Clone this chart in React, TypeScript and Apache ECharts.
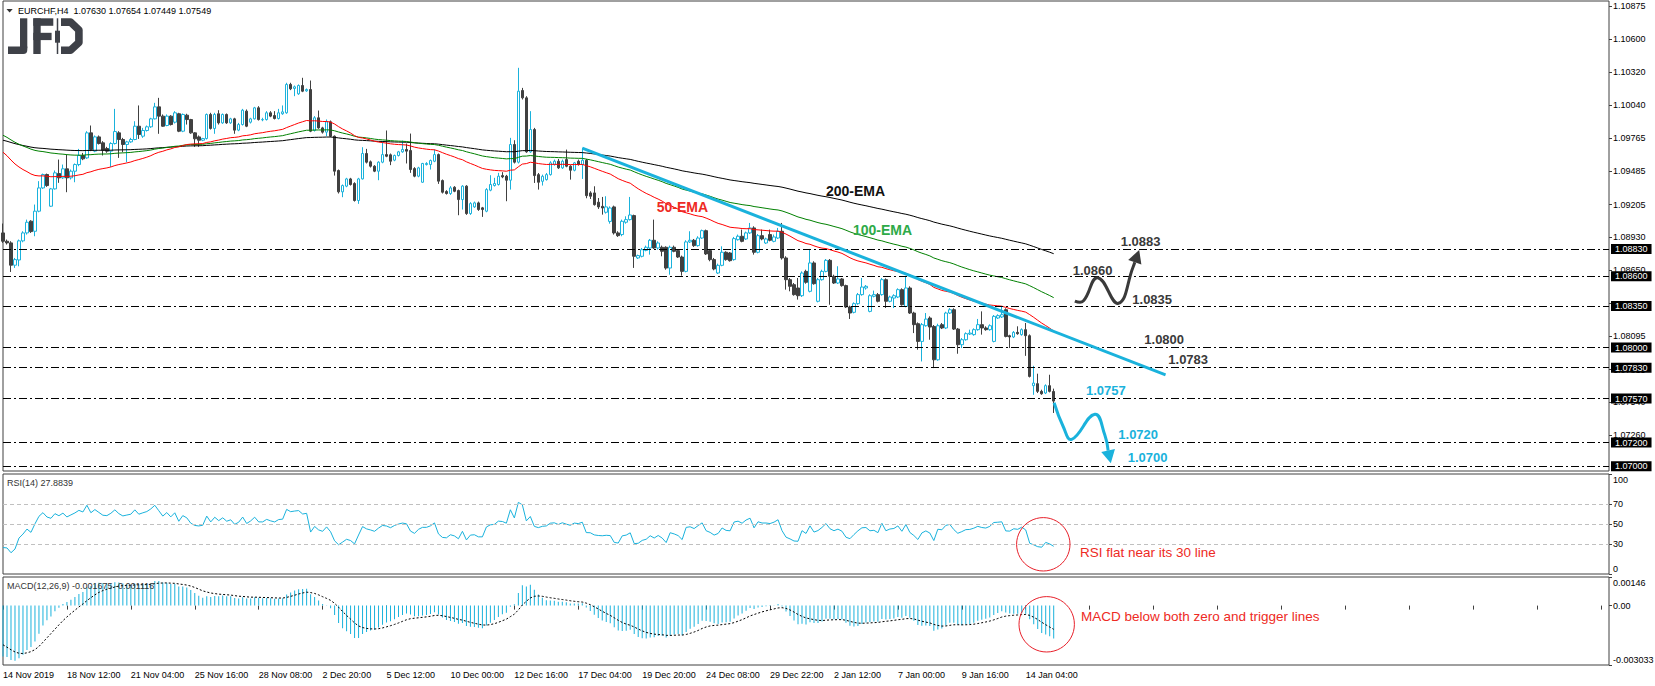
import React, { useEffect, useRef } from "react";
import * as echarts from "echarts";

// ---------------- data ----------------
const SLOT_COUNT = 403; // chart width in H4 bars (includes empty right shift)
const LABEL_EVERY = 16;
const timeLabels = [
  "14 Nov 2019", "18 Nov 12:00", "21 Nov 04:00", "25 Nov 16:00", "28 Nov 08:00",
  "2 Dec 20:00", "5 Dec 12:00", "10 Dec 00:00", "12 Dec 16:00", "17 Dec 04:00",
  "19 Dec 20:00", "24 Dec 08:00", "29 Dec 22:00", "2 Jan 12:00", "7 Jan 00:00",
  "9 Jan 16:00", "14 Jan 04:00",
];

const opens = [
  1.08966,1.08896,1.08882,1.08694,1.08738,1.08899,1.08966,1.09065,1.08980,1.09149,
  1.09345,1.09458,1.09191,1.09337,1.09466,1.09430,1.09506,1.09430,1.09486,1.09542,
  1.09618,1.09598,1.09809,1.09655,1.09775,1.09725,1.09677,1.09655,1.09719,1.09809,
  1.09753,1.09711,1.09733,1.09753,1.09865,1.09781,1.09829,1.09860,1.09927,1.10028,
  1.09950,1.09871,1.09950,1.09899,1.09970,1.09823,1.09958,1.09921,1.09809,1.09775,
  1.09747,1.09761,1.09964,1.09846,1.09970,1.09893,1.09964,1.09893,1.09927,1.09832,
  1.09879,1.09992,1.09899,1.09927,1.10020,1.09919,1.09921,1.09978,1.09955,1.09930,
  1.09970,1.09978,1.10217,1.10183,1.10138,1.10208,1.10163,1.10174,1.09829,1.09936,
  1.09851,1.09815,1.09902,1.09781,1.09492,1.09312,1.09360,1.09421,1.09382,1.09239,
  1.09421,1.09635,1.09565,1.09528,1.09486,1.09562,1.09626,1.09624,1.09579,1.09618,
  1.09649,1.09669,1.09660,1.09508,1.09444,1.09393,1.09542,1.09542,1.09570,1.09626,
  1.09407,1.09315,1.09298,1.09351,1.09323,1.09247,1.09360,1.09129,1.09185,1.09219,
  1.09177,1.09149,1.09326,1.09365,1.09374,1.09449,1.09444,1.09410,1.09711,1.09562,
  1.10166,1.10104,1.09649,1.09837,1.09457,1.09401,1.09415,1.09457,1.09542,1.09570,
  1.09514,1.09584,1.09528,1.09494,1.09570,1.09542,1.09578,1.09303,1.09303,1.09225,
  1.09190,1.09140,1.09063,1.09185,1.08966,1.08952,1.09056,1.09078,1.09112,1.08755,
  1.08769,1.08819,1.08839,1.08904,1.08839,1.08845,1.08845,1.08670,1.08845,1.08817,
  1.08763,1.08642,1.08890,1.08904,1.08859,1.08923,1.08985,1.08817,1.08741,1.08628,
  1.08693,1.08803,1.08797,1.08741,1.08909,1.08938,1.08915,1.08966,1.09008,1.08803,
  1.08943,1.08881,1.08952,1.08895,1.08923,1.08980,1.08755,1.08572,1.08530,1.08502,
  1.08437,1.08642,1.08474,1.08713,1.08390,1.08572,1.08642,1.08735,1.08600,1.08544,
  1.08578,1.08522,1.08342,1.08297,1.08370,1.08446,1.08502,1.08305,1.08432,1.08446,
  1.08446,1.08572,1.08390,1.08417,1.08426,1.08488,1.08347,1.08502,1.08291,1.08201,
  1.08052,1.08184,1.08249,1.08178,1.07897,1.08193,1.08165,1.08291,1.08319,1.08156,
  1.08024,1.08066,1.08114,1.08109,1.08151,1.08193,1.08165,1.08151,1.08052,1.08249,
  1.08258,1.08319,1.08100,1.08089,1.08128,1.08109,1.08151,1.08100,1.07679,1.07696,
  1.07631,1.07617,1.07679,1.07630,
];
const highs = [
  1.09045,1.08910,1.08896,1.08755,1.08910,1.08980,1.09078,1.09073,1.09205,1.09402,
  1.09466,1.09466,1.09345,1.09492,1.09584,1.09542,1.09626,1.09500,1.09551,1.09674,
  1.09640,1.09823,1.09871,1.09787,1.09787,1.09739,1.09691,1.09730,1.10011,1.09823,
  1.09767,1.09742,1.09767,1.09907,1.10040,1.09851,1.09871,1.09936,1.10062,1.10104,
  1.09964,1.09964,1.09958,1.09992,1.09978,1.09972,1.09970,1.09927,1.09815,1.09787,
  1.09767,1.09972,1.09978,1.09978,1.10000,1.09972,1.09972,1.09936,1.09936,1.09893,
  1.10011,1.10006,1.09936,1.10028,1.10034,1.09936,1.09992,1.09992,1.09992,1.10011,
  1.10040,1.10231,1.10231,1.10208,1.10217,1.10273,1.10183,1.10250,1.09950,1.09997,
  1.09860,1.09922,1.09913,1.09787,1.09500,1.09374,1.09430,1.09430,1.09393,1.09430,
  1.09688,1.09674,1.09576,1.09537,1.09570,1.09739,1.09829,1.09635,1.09626,1.09657,
  1.09744,1.09719,1.09803,1.09520,1.09523,1.09556,1.09562,1.09584,1.09669,1.09635,
  1.09416,1.09326,1.09360,1.09360,1.09331,1.09368,1.09368,1.09225,1.09230,1.09230,
  1.09185,1.09343,1.09452,1.09430,1.09472,1.09478,1.09455,1.09767,1.09747,1.10357,
  1.10188,1.10118,1.09992,1.09851,1.09471,1.09457,1.09471,1.09570,1.09584,1.09589,
  1.09584,1.09668,1.09536,1.09564,1.09584,1.09682,1.09589,1.09317,1.09359,1.09260,
  1.09269,1.09275,1.09190,1.09196,1.08980,1.09078,1.09106,1.09269,1.09120,1.08783,
  1.08839,1.08859,1.08915,1.09078,1.08895,1.08859,1.08853,1.08859,1.08859,1.08825,
  1.08775,1.08904,1.08980,1.08915,1.08938,1.08994,1.08994,1.08831,1.08755,1.08707,
  1.08853,1.08811,1.08805,1.08932,1.08952,1.08994,1.08977,1.09050,1.09022,1.08957,
  1.08994,1.08926,1.08994,1.08952,1.09008,1.09050,1.08769,1.08586,1.08544,1.08586,
  1.08642,1.08656,1.08831,1.08727,1.08586,1.08656,1.08746,1.08746,1.08614,1.08685,
  1.08586,1.08530,1.08353,1.08381,1.08460,1.08586,1.08527,1.08449,1.08480,1.08460,
  1.08586,1.08583,1.08437,1.08449,1.08499,1.08499,1.08600,1.08516,1.08302,1.08212,
  1.08207,1.08291,1.08263,1.08190,1.08201,1.08207,1.08302,1.08333,1.08331,1.08165,
  1.08080,1.08128,1.08151,1.08162,1.08241,1.08305,1.08179,1.08196,1.08274,1.08280,
  1.08342,1.08331,1.08108,1.08139,1.08179,1.08162,1.08207,1.08111,1.07846,1.07780,
  1.07645,1.07690,1.07771,1.07654,
];
const lows = [
  1.08882,1.08868,1.08637,1.08671,1.08685,1.08887,1.08952,1.08966,1.08938,1.09140,
  1.09337,1.09354,1.09185,1.09331,1.09388,1.09421,1.09309,1.09416,1.09393,1.09528,
  1.09579,1.09590,1.09655,1.09646,1.09711,1.09618,1.09641,1.09522,1.09711,1.09598,
  1.09646,1.09562,1.09725,1.09747,1.09758,1.09767,1.09820,1.09851,1.09922,1.09801,
  1.09860,1.09865,1.09871,1.09888,1.09815,1.09815,1.09879,1.09801,1.09691,1.09691,
  1.09739,1.09753,1.09837,1.09801,1.09879,1.09885,1.09885,1.09885,1.09801,1.09823,
  1.09871,1.09857,1.09888,1.09922,1.09913,1.09907,1.09913,1.09941,1.09922,1.09922,
  1.09961,1.09970,1.10169,1.10118,1.10129,1.10152,1.10155,1.09815,1.09820,1.09843,
  1.09803,1.09781,1.09773,1.09449,1.09298,1.09267,1.09351,1.09365,1.09230,1.09211,
  1.09416,1.09551,1.09517,1.09478,1.09410,1.09553,1.09604,1.09537,1.09570,1.09610,
  1.09641,1.09551,1.09472,1.09435,1.09435,1.09388,1.09534,1.09500,1.09562,1.09379,
  1.09298,1.09289,1.09286,1.09309,1.09115,1.09163,1.09118,1.09118,1.09177,1.09152,
  1.09101,1.09140,1.09317,1.09357,1.09365,1.09427,1.09233,1.09331,1.09551,1.09551,
  1.10090,1.09641,1.09641,1.09387,1.09331,1.09365,1.09407,1.09449,1.09533,1.09505,
  1.09505,1.09519,1.09415,1.09485,1.09533,1.09421,1.09258,1.09252,1.09196,1.09168,
  1.09120,1.09129,1.09044,1.08952,1.08932,1.08938,1.09044,1.09070,1.08671,1.08746,
  1.08760,1.08811,1.08783,1.08831,1.08825,1.08769,1.08656,1.08614,1.08803,1.08755,
  1.08606,1.08634,1.08881,1.08848,1.08850,1.08915,1.08780,1.08727,1.08651,1.08620,
  1.08685,1.08732,1.08724,1.08732,1.08901,1.08887,1.08907,1.08957,1.08783,1.08794,
  1.08904,1.08873,1.08895,1.08887,1.08915,1.08741,1.08488,1.08474,1.08437,1.08404,
  1.08426,1.08538,1.08465,1.08530,1.08381,1.08564,1.08634,1.08361,1.08536,1.08536,
  1.08513,1.08333,1.08241,1.08288,1.08361,1.08437,1.08488,1.08297,1.08423,1.08381,
  1.08437,1.08333,1.08381,1.08333,1.08417,1.08353,1.08339,1.08283,1.08122,1.07982,
  1.07883,1.08176,1.08066,1.07827,1.07889,1.08156,1.08156,1.08283,1.08148,1.07948,
  1.07996,1.08058,1.08106,1.08100,1.08142,1.08109,1.08142,1.08142,1.08044,1.08241,
  1.08249,1.08086,1.07996,1.08080,1.08108,1.08100,1.07930,1.07748,1.07602,1.07617,
  1.07602,1.07608,1.07622,1.07449,
];
const closes = [
  1.08896,1.08882,1.08694,1.08741,1.08899,1.08966,1.09056,1.08977,1.09149,1.09345,
  1.09458,1.09365,1.09337,1.09472,1.09430,1.09506,1.09430,1.09486,1.09542,1.09618,
  1.09590,1.09809,1.09669,1.09775,1.09719,1.09663,1.09655,1.09719,1.09820,1.09753,
  1.09711,1.09733,1.09753,1.09865,1.09795,1.09829,1.09860,1.09927,1.10028,1.09950,
  1.09865,1.09950,1.09879,1.09978,1.09823,1.09964,1.09921,1.09809,1.09759,1.09747,
  1.09761,1.09964,1.09846,1.09964,1.09893,1.09964,1.09893,1.09927,1.09832,1.09879,
  1.10000,1.09865,1.09927,1.10020,1.09921,1.09921,1.09978,1.09950,1.09930,1.09978,
  1.09986,1.10217,1.10180,1.10197,1.10208,1.10160,1.10174,1.09823,1.09936,1.09851,
  1.09815,1.09902,1.09781,1.09486,1.09312,1.09365,1.09421,1.09374,1.09239,1.09421,
  1.09635,1.09562,1.09528,1.09486,1.09562,1.09626,1.09612,1.09570,1.09618,1.09649,
  1.09669,1.09655,1.09500,1.09444,1.09514,1.09551,1.09551,1.09576,1.09626,1.09402,
  1.09309,1.09298,1.09345,1.09317,1.09247,1.09360,1.09129,1.09213,1.09219,1.09163,
  1.09163,1.09331,1.09374,1.09382,1.09444,1.09438,1.09410,1.09711,1.09562,1.10160,
  1.10104,1.09649,1.09837,1.09449,1.09393,1.09443,1.09457,1.09556,1.09570,1.09514,
  1.09570,1.09528,1.09494,1.09556,1.09542,1.09578,1.09280,1.09275,1.09204,1.09185,
  1.09176,1.09185,1.09176,1.08966,1.08943,1.09064,1.09078,1.09117,1.08769,1.08775,
  1.08825,1.08845,1.08904,1.08839,1.08881,1.08811,1.08670,1.08845,1.08811,1.08763,
  1.08642,1.08890,1.08904,1.08859,1.08923,1.08985,1.08789,1.08741,1.08662,1.08693,
  1.08803,1.08741,1.08732,1.08918,1.08938,1.08895,1.08966,1.09008,1.08803,1.08943,
  1.08915,1.08915,1.08904,1.08932,1.08980,1.08755,1.08572,1.08516,1.08446,1.08437,
  1.08628,1.08550,1.08713,1.08538,1.08572,1.08642,1.08735,1.08600,1.08544,1.08578,
  1.08522,1.08342,1.08291,1.08370,1.08446,1.08510,1.08516,1.08437,1.08446,1.08390,
  1.08572,1.08390,1.08426,1.08437,1.08488,1.08361,1.08502,1.08291,1.08193,1.08052,
  1.08193,1.08240,1.08173,1.07897,1.08184,1.08165,1.08291,1.08319,1.08156,1.08024,
  1.08066,1.08117,1.08122,1.08151,1.08193,1.08165,1.08151,1.08184,1.08263,1.08269,
  1.08277,1.08094,1.08089,1.08128,1.08117,1.08151,1.08100,1.07757,1.07701,1.07631,
  1.07611,1.07679,1.07631,1.07549,
];

// indicator start values (value at the first bar)
const EMA50_START = 1.09646;
const EMA100_START = 1.09789;
const EMA200_START = 1.09747;
const EMA12_START = 1.0916;
const EMA26_START = 1.0942;
const SIGNAL_START = -0.002;
const RSI_GAIN_START = 0.00018;
const RSI_LOSS_START = 0.0005;

// levels and axis ticks
const levels = [1.0883, 1.086, 1.0835, 1.08, 1.0783, 1.0757, 1.072, 1.07];
const priceTicks = [1.10875, 1.106, 1.1032, 1.1004, 1.09765, 1.09485, 1.09205, 1.0893, 1.0865, 1.0837, 1.08095, 1.07815, 1.0754, 1.0726];
const rsiTicks = [0, 30, 50, 70, 100];
const rsiInnerLabels = [30, 50, 70];
const rsiGuides = [30, 50, 70];
const rsiEndLabels = ["100", "0"];
const macdTicks = [0.00146, 0, -0.003033];
const macdTickLabels = ["0.00146", "0.00", "-0.003033"];
const trendLine = [[145, 1.0968], [291, 1.0777]];
const upPath = [[268.3, 1.08392], [270.4, 1.08392], [274.0, 1.08589], [279.2, 1.08373], [282.9, 1.08681], [284.4, 1.08822]];
const downPath = [[263.1, 1.07535], [265.4, 1.07333], [267.5, 1.07227], [273.3, 1.07438], [275.8, 1.07263], [277.3, 1.07025]];

// --------------- helpers ---------------
function ema(src: number[], period: number, start: number): number[] {
  const k = 2 / (period + 1);
  const out: number[] = [];
  let e = start;
  src.forEach((v, i) => {
    if (i > 0) e = e + k * (v - e);
    out.push(e);
  });
  return out;
}

const FONT = "'Liberation Sans', Arial, sans-serif";
const CYAN = "#1ab2dc";
const FRAME = "#404040";

export default function App() {
  const ref = useRef<HTMLDivElement>(null);

  useEffect(() => {
    document.body.style.margin = "0";
    document.body.style.overflow = "hidden";
    if (!ref.current) return;
    const chart = echarts.init(ref.current, undefined, { renderer: "svg" });

    const n = closes.length;
    const candles = closes.map((c, i) => [opens[i], c, lows[i], highs[i]]);
    const ema50 = ema(closes, 50, EMA50_START);
    const ema100 = ema(closes, 100, EMA100_START);
    const ema200 = ema(closes, 200, EMA200_START);
    const e12 = ema(closes, 12, EMA12_START);
    const e26 = ema(closes, 26, EMA26_START);
    const macd = e12.map((v, i) => v - e26[i]);
    const signal = ema(macd, 9, SIGNAL_START);
    const rsi: number[] = [];
    let g = RSI_GAIN_START, l = RSI_LOSS_START;
    for (let i = 0; i < n; i++) {
      if (i > 0) {
        const d = closes[i] - closes[i - 1];
        g = (g * 13 + Math.max(d, 0)) / 14;
        l = (l * 13 + Math.max(-d, 0)) / 14;
      }
      rsi.push(100 - 100 / (1 + g / l));
    }

    const cats = Array.from({ length: SLOT_COUNT }, (_, i) =>
      i % LABEL_EVERY === 0 && timeLabels[i / LABEL_EVERY] ? timeLabels[i / LABEL_EVERY] : ""
    );
    const showEvery = (i: number) => i % LABEL_EVERY === 0;

    const grids = [
      { left: 3, top: 1, width: 1606, height: 470 },
      { left: 3, top: 474, width: 1606, height: 100 },
      { left: 3, top: 577, width: 1606, height: 88 },
    ].map((gr) => ({ ...gr, show: true, borderColor: FRAME, borderWidth: 1, backgroundColor: "#fff" }));

    const xAxes = [0, 1, 2].map((gi) => ({
      type: "category",
      gridIndex: gi,
      data: cats,
      boundaryGap: false,
      axisLine: { show: false },
      splitLine: { show: false },
      axisTick: gi === 2
        ? { show: true, interval: showEvery, length: 4, lineStyle: { color: FRAME } }
        : { show: false },
      axisLabel: gi === 2
        ? { show: true, interval: showEvery, align: "left", fontSize: 9, fontFamily: FONT, color: "#000", margin: 5 }
        : { show: false },
    }));

    const yBase = (gi: number) => ({
      type: "value",
      gridIndex: gi,
      position: "right",
      splitLine: { show: false },
      axisLine: { show: false },
    });
    const lbl = { fontSize: 9, fontFamily: FONT, color: "#000", margin: 4 };

    const yAxes = [
      {
        ...yBase(0), min: 1.0696, max: 1.1092,
        axisTick: { show: true, length: 3, customValues: priceTicks, lineStyle: { color: FRAME } },
        axisLabel: { ...lbl, customValues: priceTicks, formatter: (v: number) => v.toFixed(5) },
      },
      {
        ...yBase(1), min: 0, max: 100,
        axisTick: { show: true, length: 3, customValues: rsiTicks, lineStyle: { color: FRAME } },
        axisLabel: { ...lbl, customValues: rsiInnerLabels, formatter: (v: number) => String(v) },
      },
      {
        ...yBase(2), min: -0.003033, max: 0.00146,
        axisTick: { show: true, length: 3, customValues: macdTicks, lineStyle: { color: FRAME } },
        axisLabel: { ...lbl, customValues: [macdTicks[1]], formatter: () => macdTickLabels[1] },
      },
    ];

    const option: any = {
      animation: false,
      grid: grids,
      xAxis: xAxes,
      yAxis: yAxes,
      series: [
        {
          type: "candlestick", xAxisIndex: 0, yAxisIndex: 0, data: candles, barWidth: 3,
          itemStyle: { color: "#ffffff", color0: "#404040", borderColor: CYAN, borderColor0: "#404040", borderWidth: 1 },
          markLine: {
            silent: true, symbol: ["none", "none"], animation: false, precision: 5,
            data: levels.map((v) => ({ yAxis: v })),
            lineStyle: { color: "#000", width: 1, type: [8, 3, 2, 3] },
            label: {
              position: "end", distance: 2, formatter: (p: any) => Number(p.value).toFixed(5),
              backgroundColor: "#000", color: "#fff", padding: [0, 4], lineHeight: 10,
              fontSize: 9, fontFamily: FONT,
            },
            emphasis: { disabled: true },
          },
        },
        { type: "line", xAxisIndex: 0, yAxisIndex: 0, data: ema200, symbol: "none", lineStyle: { color: "#000", width: 1 } },
        { type: "line", xAxisIndex: 0, yAxisIndex: 0, data: ema100, symbol: "none", lineStyle: { color: "#008000", width: 1 } },
        { type: "line", xAxisIndex: 0, yAxisIndex: 0, data: ema50, symbol: "none", lineStyle: { color: "#ff0000", width: 1 } },
        { type: "line", xAxisIndex: 0, yAxisIndex: 0, data: trendLine, symbol: "none", lineStyle: { color: CYAN, width: 3 }, z: 5 },
        {
          type: "line", xAxisIndex: 1, yAxisIndex: 1, data: rsi, symbol: "none", lineStyle: { color: CYAN, width: 1 },
          markLine: {
            silent: true, symbol: ["none", "none"], animation: false, precision: 2,
            data: rsiGuides.map((v) => ({ yAxis: v })),
            lineStyle: { color: "#c0c0c0", width: 1, type: [4, 3] },
            label: { show: false },
            emphasis: { disabled: true },
          },
        },
        { type: "bar", xAxisIndex: 2, yAxisIndex: 2, data: macd, barWidth: 1, itemStyle: { color: CYAN } },
        { type: "line", xAxisIndex: 2, yAxisIndex: 2, data: signal, symbol: "none", lineStyle: { color: "#000", width: 1, type: [2, 2] } },
      ],
    };
    chart.setOption(option);

    // positions through the chart's scales
    const a0 = chart.convertToPixel({ xAxisIndex: 0, yAxisIndex: 0 }, [0, 1.08]) as number[];
    const a1 = chart.convertToPixel({ xAxisIndex: 0, yAxisIndex: 0 }, [10, 1.08]) as number[];
    const step = (a1[0] - a0[0]) / 10;
    const toPx = (p: number[]) => [a0[0] + p[0] * step, chart.convertToPixel({ yAxisIndex: 0 }, p[1]) as number];
    const arrow = (path: number[][], color: string) => {
      const pts = path.map(toPx);
      const tip = pts[pts.length - 1];
      const prev = pts[pts.length - 2];
      const dx = tip[0] - prev[0], dy = tip[1] - prev[1];
      const len = Math.hypot(dx, dy) || 1;
      const ux = dx / len, uy = dy / len;
      const L = 13, W = 7;
      const base = [tip[0] - ux * L, tip[1] - uy * L];
      const linePts = [...pts.slice(0, -1), base];
      return [
        { type: "polyline", z: 100, shape: { points: linePts, smooth: 0.45 }, style: { stroke: color, lineWidth: 3, fill: null } },
        {
          type: "polygon", z: 100,
          shape: { points: [tip, [base[0] - uy * W, base[1] + ux * W], [base[0] + uy * W, base[1] - ux * W]] },
          style: { fill: color },
        },
      ];
    };

    const txt = (text: string, x: number, y: number, fill: string, size: number, weight = "normal", vAlign = "middle") => ({
      type: "text", z: 100, x, y,
      style: { text, fill, fontSize: size, fontWeight: weight, fontFamily: FONT, textVerticalAlign: vAlign, textAlign: "left" },
    });

    // end labels of the indicator windows sit inside the window (as in MT4)
    const rsiTop = chart.convertToPixel({ yAxisIndex: 1 }, 100) as number;
    const rsiBottom = chart.convertToPixel({ yAxisIndex: 1 }, 0) as number;
    const macdTop = chart.convertToPixel({ yAxisIndex: 2 }, macdTicks[0]) as number;
    const macdBottom = chart.convertToPixel({ yAxisIndex: 2 }, macdTicks[2]) as number;
    const axisX = 1613;

    const LOGO = "#3e4148";
    const graphics: any[] = [
      // JFD logo
      { type: "rect", z: 100, shape: { x: 20, y: 18.3, width: 7.3, height: 30 }, style: { fill: LOGO } },
      { type: "rect", z: 100, shape: { x: 8, y: 46.5, width: 19.3, height: 7.5, r: [0, 0, 4, 0] }, style: { fill: LOGO } },
      { type: "rect", z: 100, shape: { x: 33.3, y: 18.3, width: 7.4, height: 35.7 }, style: { fill: LOGO } },
      { type: "rect", z: 100, shape: { x: 33.3, y: 18.3, width: 20, height: 7.5 }, style: { fill: LOGO } },
      { type: "rect", z: 100, shape: { x: 33.3, y: 32.8, width: 18.3, height: 7.3 }, style: { fill: LOGO } },
      { type: "line", z: 100, shape: { x1: 57.5, y1: 18.3, x2: 57.5, y2: 54 }, style: { stroke: LOGO, lineWidth: 1.5 } },
      { type: "rect", z: 100, shape: { x: 55, y: 30.7, width: 5, height: 12 }, style: { fill: LOGO } },
      {
        type: "polyline", z: 100,
        shape: { points: [[61, 22.1], [70.5, 22.1], [78.9, 30], [78.9, 42.5], [70.5, 50.2], [61, 50.2]] },
        style: { stroke: LOGO, lineWidth: 7.6, fill: null, lineJoin: "round" },
      },
      // header
      { type: "polygon", z: 100, shape: { points: [[6.5, 9], [12.7, 9], [9.6, 12.4]] }, style: { fill: "#333" } },
      txt("EURCHF,H4  1.07630 1.07654 1.07449 1.07549", 18, 10.8, "#000", 9),
      txt("RSI(14) 27.8839", 7, 483, "#333", 9),
      txt("MACD(12,26,9) -0.001675 -0.001116", 7, 585.7, "#333", 9),
      // indicator window end labels
      txt(rsiEndLabels[0], axisX, rsiTop + 1, "#000", 9, "normal", "top"),
      txt(rsiEndLabels[1], axisX, rsiBottom - 1, "#000", 9, "normal", "bottom"),
      txt(macdTickLabels[0], axisX, macdTop + 1, "#000", 9, "normal", "top"),
      txt(macdTickLabels[2], axisX, macdBottom - 0.5, "#000", 9, "normal", "bottom"),
      // EMA labels
      txt("200-EMA", 826, 191, "#111", 14, "bold"),
      txt("100-EMA", 853, 230, "#2eaa48", 14, "bold"),
      txt("50-EMA", 656.7, 207.3, "#ee2a24", 14, "bold"),
      // level labels
      txt("1.0883", 1120.7, 241, "#3a3a3a", 13, "bold"),
      txt("1.0860", 1072.7, 270.3, "#3a3a3a", 13, "bold"),
      txt("1.0835", 1132.3, 299, "#3a3a3a", 13, "bold"),
      txt("1.0800", 1144.3, 339, "#3a3a3a", 13, "bold"),
      txt("1.0783", 1168.3, 359, "#3a3a3a", 13, "bold"),
      txt("1.0757", 1086, 390.7, CYAN, 13, "bold"),
      txt("1.0720", 1118.3, 434, CYAN, 13, "bold"),
      txt("1.0700", 1127.7, 457.3, CYAN, 13, "bold"),
      // indicator notes
      { type: "circle", z: 100, shape: { cx: 1043.3, cy: 544.3, r: 26.7 }, style: { stroke: "#e8202a", lineWidth: 1, fill: null } },
      { type: "circle", z: 100, shape: { cx: 1046.7, cy: 624.3, r: 27.7 }, style: { stroke: "#e8202a", lineWidth: 1, fill: null } },
      txt("RSI flat near its 30 line", 1080, 552.3, "#ee2a24", 13.5),
      txt("MACD below both zero and trigger lines", 1081, 616.7, "#ee2a24", 13.5),
      ...arrow(upPath, "#3a3a3a"),
      ...arrow(downPath, CYAN),
    ];
    chart.setOption({ graphic: graphics });

    return () => chart.dispose();
  }, []);

  return <div ref={ref} style={{ width: 1655, height: 686 }} />;
}
